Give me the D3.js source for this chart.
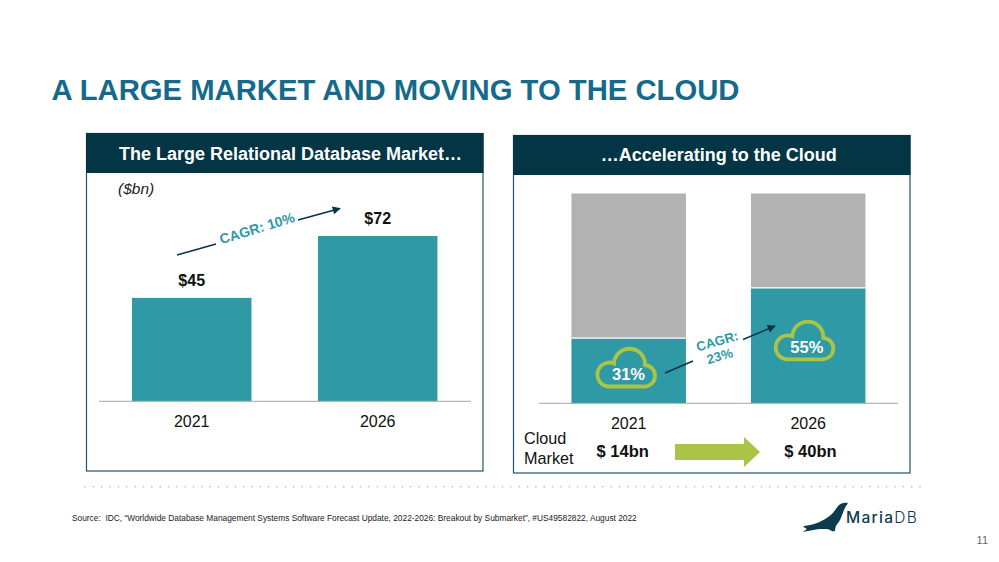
<!DOCTYPE html>
<html><head><meta charset="utf-8">
<script src="https://cdn.jsdelivr.net/npm/d3@7/dist/d3.min.js"></script>
<style>html,body{margin:0;padding:0;background:#fff}svg{display:block}text{font-family:"Liberation Sans",Arial,sans-serif;white-space:pre}</style>
</head><body><svg id="c" width="999" height="562"></svg>
<script>
const years = ["2021", "2026"];
const marketValues = [45, 72];
const marketLabels = ["$45", "$72"];
const cloudShare = [31, 55];
const otherShare = [69, 45];
const cloudMarket = ["$ 14bn", "$ 40bn"];

const svg = d3.select("#c");
const TEAL = "#2f99a6", NAVY = "#033545", GREEN = "#a9c447", GREY = "#b2b2b2", AXIS = "#a6a6a6";

svg.append("text").attr("x", 51.5).attr("y", 100).attr("font-size", 29.25).attr("font-weight", "bold")
  .attr("fill", "#156a8c").text("A LARGE MARKET AND MOVING TO THE CLOUD");

svg.append("defs").append("marker").attr("id", "ah").attr("viewBox", "0 0 10 10").attr("refX", 9).attr("refY", 5)
  .attr("markerWidth", 9).attr("markerHeight", 8).attr("markerUnits", "userSpaceOnUse").attr("orient", "auto")
  .append("path").attr("d", "M0,0L10,5L0,10Z").attr("fill", NAVY);

function panel(x, y, w, h, title, tx, ty) {
  svg.append("rect").attr("x", x).attr("y", y).attr("width", w).attr("height", h)
    .attr("fill", "#fff").attr("stroke", "#1f5566").attr("stroke-width", 1.2);
  svg.append("rect").attr("x", x - .5).attr("y", y - .5).attr("width", w + 1).attr("height", 40).attr("fill", NAVY);
  svg.append("text").attr("x", tx).attr("y", ty).attr("text-anchor", "middle").attr("font-size", 18)
    .attr("font-weight", "bold").attr("fill", "#fff").text(title);
}
function label(x, y, t, size, bold, fill, anchor) {
  return svg.append("text").attr("x", x).attr("y", y).attr("font-size", size)
    .attr("font-weight", bold ? "bold" : "normal").attr("fill", fill || "#111")
    .attr("text-anchor", anchor || "middle").text(t);
}
function arrowLine(x1, y1, x2, y2, head) {
  const l = svg.append("line").attr("x1", x1).attr("y1", y1).attr("x2", x2).attr("y2", y2)
    .attr("stroke", NAVY).attr("stroke-width", 1.4);
  if (head) l.attr("marker-end", "url(#ah)");
}
function rotText(x, y, a, t, size) {
  svg.append("text").attr("transform", `translate(${x},${y}) rotate(${a})`).attr("text-anchor", "middle")
    .attr("font-size", size).attr("font-weight", "bold").attr("fill", TEAL).text(t);
}

/* left panel */
panel(86.5, 133.5, 396.5, 337.5, "The Large Relational Database Market\u2026", 290.5, 160);
label(118, 194, "($bn)", 15.5, false, "#222", "start").attr("font-style", "italic");

const xLeft = d3.scalePoint().domain(years).range([191.7, 377.7]);
const yL = d3.scaleLinear().domain([0, 72]).range([401, 236]);
const barWL = 119.5;
svg.append("g").selectAll("rect").data(marketValues).join("rect")
  .attr("x", (d, i) => xLeft(years[i]) - barWL / 2).attr("width", barWL)
  .attr("y", d => yL(d)).attr("height", d => yL(0) - yL(d)).attr("fill", TEAL);
svg.append("line").attr("x1", 99).attr("x2", 471).attr("y1", 401.3).attr("y2", 401.3).attr("stroke", AXIS).attr("stroke-width", 1);
svg.append("g").selectAll("text").data(years).join("text").attr("x", d => xLeft(d)).attr("y", 427)
  .attr("text-anchor", "middle").attr("font-size", 16).attr("fill", "#111").text(d => d);
svg.append("g").selectAll("text").data(marketLabels).join("text").attr("x", (d, i) => xLeft(years[i]))
  .attr("y", (d, i) => yL(marketValues[i]) - 12).attr("text-anchor", "middle").attr("font-size", 16)
  .attr("font-weight", "bold").attr("fill", "#111").text(d => d);
arrowLine(177, 255, 216, 244, false);
arrowLine(298, 220, 340, 208.5, true);
rotText(258.5, 233, -17, "CAGR: 10%", 14);

/* right panel */
panel(513.5, 135.5, 396.5, 337.5, "\u2026Accelerating to the Cloud", 718.7, 161);

const xRight = d3.scalePoint().domain(years).range([628.7, 808.2]);
const yR = d3.scaleLinear().domain([0, 100]).range([403, 193.5]);
const barWR = 114.5;
const stack = d3.stack().keys(["cloud", "other"])(years.map((y, i) => ({ year: y, cloud: cloudShare[i], other: otherShare[i] })));
const fills = [TEAL, GREY];
stack.forEach((s, k) => {
  svg.append("g").selectAll("rect").data(s).join("rect")
    .attr("x", d => xRight(d.data.year) - barWR / 2).attr("width", barWR)
    .attr("y", d => yR(d[1])).attr("height", d => yR(d[0]) - yR(d[1])).attr("fill", fills[k]);
});
svg.append("g").selectAll("line").data(cloudShare).join("line")
  .attr("x1", (d, i) => xRight(years[i]) - barWR / 2).attr("x2", (d, i) => xRight(years[i]) + barWR / 2)
  .attr("y1", d => yR(d)).attr("y2", d => yR(d)).attr("stroke", "#fff").attr("stroke-width", 1.2);
svg.append("line").attr("x1", 539).attr("x2", 898).attr("y1", 403.3).attr("y2", 403.3).attr("stroke", AXIS).attr("stroke-width", 1);
svg.append("g").selectAll("text").data(years).join("text").attr("x", d => xRight(d)).attr("y", 429)
  .attr("text-anchor", "middle").attr("font-size", 16).attr("fill", "#111").text(d => d);

const cloudPath = "M-18,18.5H17.5A10.5,10.5 0 0 0 19,-3A14,14 0 0 0 -12,-4.5A12,12 0 1 0 -18,18.5Z";
const cloudCx = [626, 804.3], cloudCy = [368, 340.8];
svg.append("g").selectAll("path").data(cloudShare).join("path")
  .attr("transform", (d, i) => `translate(${cloudCx[i]},${cloudCy[i]})`).attr("d", cloudPath)
  .attr("fill", "none").attr("stroke", GREEN).attr("stroke-width", 3.8);
svg.append("g").selectAll("text").data(cloudShare).join("text")
  .attr("x", (d, i) => cloudCx[i] + 2.5).attr("y", (d, i) => cloudCy[i] + 11.7)
  .attr("text-anchor", "middle").attr("font-size", 16.5).attr("font-weight", "bold").attr("fill", "#fff").text(d => d + "%");
arrowLine(665, 373, 693, 361, false);
arrowLine(743, 339.5, 775, 326, true);
rotText(718.5, 345.5, -16, "CAGR:", 13.2);
rotText(721, 360.5, -16, "23%", 13.2);

label(524, 444, "Cloud", 16.2, false, "#111", "start");
label(524, 464, "Market", 16.2, false, "#111", "start");
const cmX = [622.7, 810.5];
svg.append("g").selectAll("text").data(cloudMarket).join("text").attr("x", (d, i) => cmX[i]).attr("y", 457)
  .attr("text-anchor", "middle").attr("font-size", 16.5).attr("font-weight", "bold").attr("fill", "#111").text(d => d);
svg.append("path").attr("d", "M675,444H744V437L760,452L744,467V460H675Z").attr("fill", GREEN);

/* footer */
svg.append("g").selectAll("circle").data(d3.range(85, 922, 8.35)).join("circle")
  .attr("cx", d => d).attr("cy", 486.7).attr("r", .8).attr("fill", "#8fc0c0");
label(72, 521, "Source:  IDC, \u201CWorldwide Database Management Systems Software Forecast Update, 2022-2026: Breakout by Submarket\u201D, #US49582822, August 2022", 8.35, false, "#222", "start");
label(988, 544, "11", 11, false, "#666", "end");

/* logo */
const seal = [[158,24],[146,24],[133,29],[124,40],[110,58],[85,75],[55,88],[25,95],[35,102],[25,110],[50,106],[75,102],[100,103],[110,108],[119,108],[122,95],[135,75],[145,50],[150,38]];
svg.append("path").attr("d", d3.line().x(d => 795 + d[0] / 3).y(d => 495 + d[1] / 3).curve(d3.curveCatmullRomClosed.alpha(.5))(seal)).attr("fill", "#0b3b4c");
const lg = svg.append("text").attr("x", 846).attr("y", 523).attr("font-size", 15.5).attr("fill", "#0b3b4c").attr("letter-spacing", 1.3).style("font-family", "Inter");
lg.append("tspan").attr("font-weight", "500").text("Maria");
lg.append("tspan").attr("font-weight", "300").text("DB");
</script></body></html>
